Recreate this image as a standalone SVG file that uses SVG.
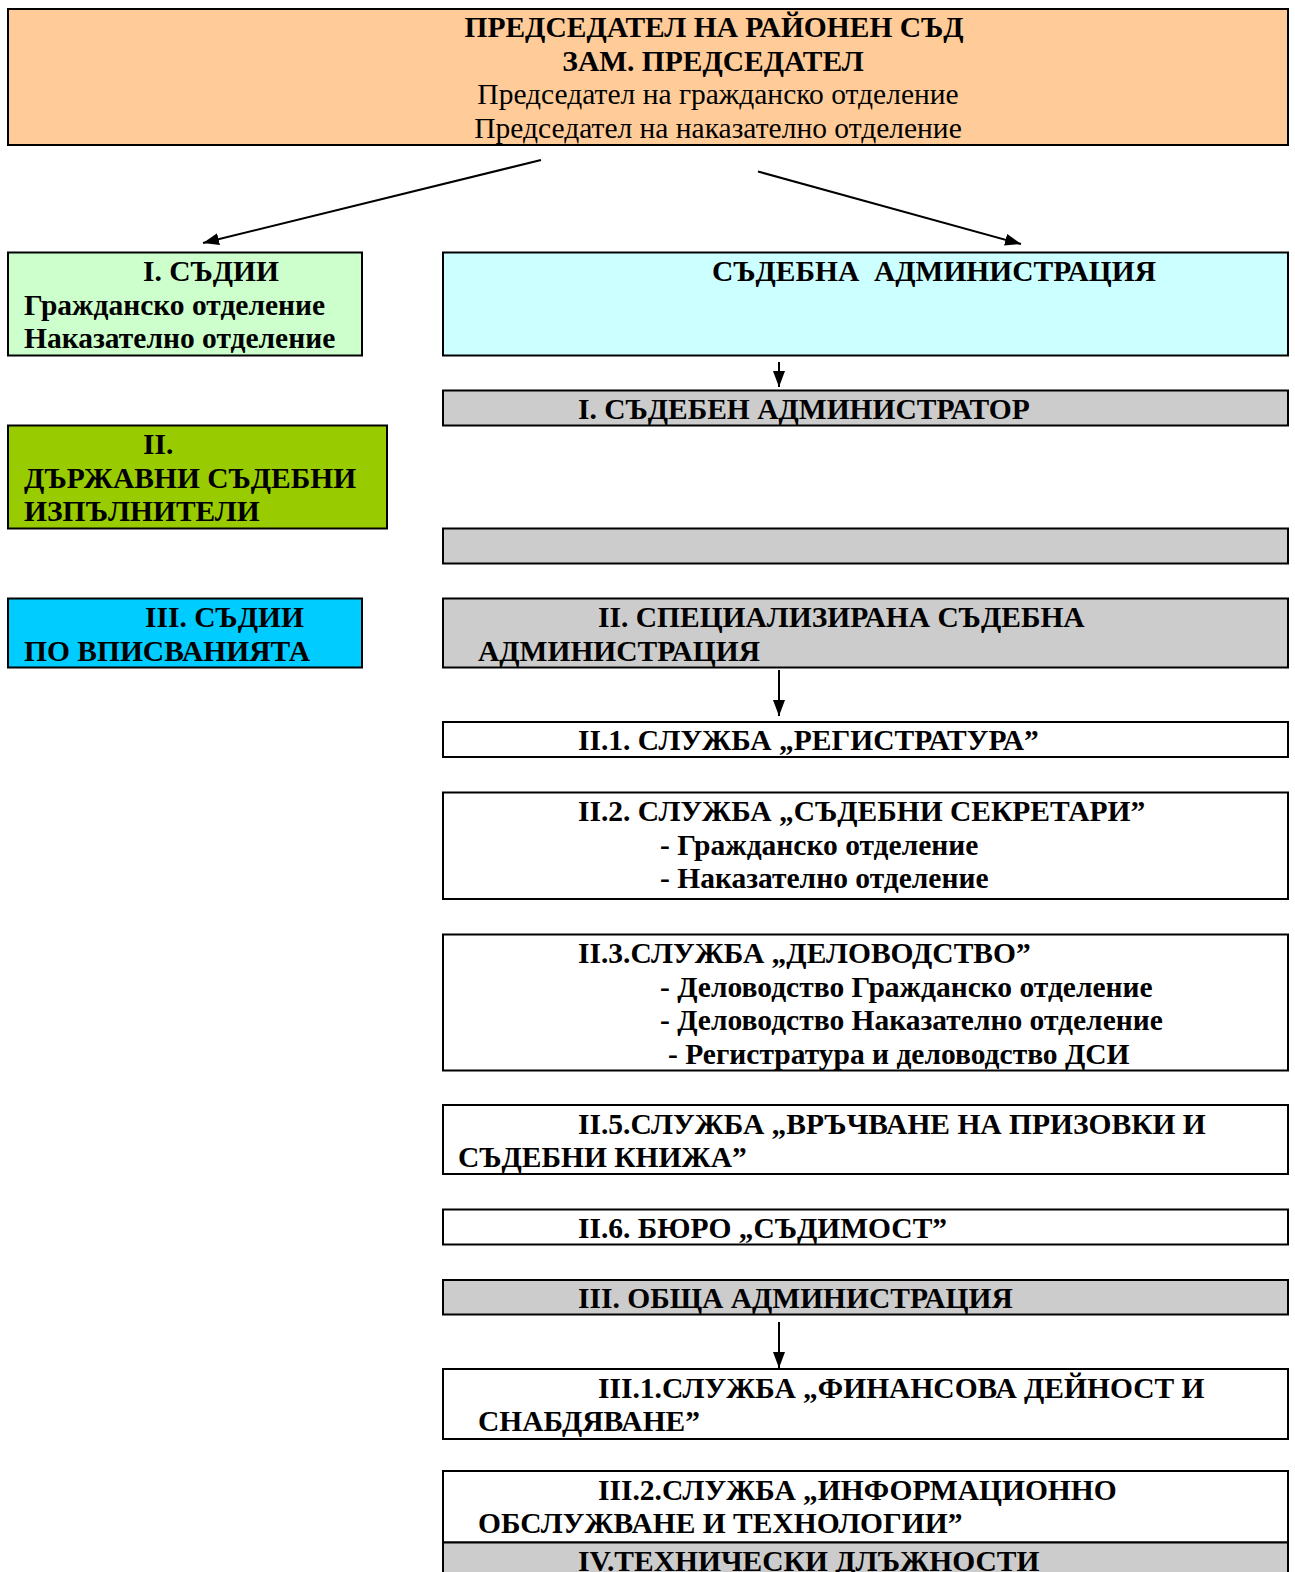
<svg xmlns="http://www.w3.org/2000/svg" width="1295" height="1572" viewBox="0 0 1295 1572">
<defs>
<style>
.box{stroke:#000;stroke-width:2}
.t{font-family:"Liberation Serif","Times New Roman",serif;font-size:29.5px;font-weight:bold;fill:#000;white-space:pre}
.n{font-weight:normal}
.m{text-anchor:middle}
.c{stroke:#000;stroke-width:2;fill:none}
</style>
<marker id="ah" markerUnits="userSpaceOnUse" markerWidth="16" markerHeight="12" refX="16" refY="6" orient="auto">
<path d="M0,0 L16,6 L0,12 z" fill="#000"/>
</marker>
</defs>
<rect width="1295" height="1572" fill="#fff"/>
<g id="chair">
<rect class="box" x="8" y="9" width="1280" height="136" fill="#FFCC99"/>
<text class="t m" x="714" y="37">ПРЕДСЕДАТЕЛ НА РАЙОНЕН СЪД</text>
<text class="t m" x="713" y="70.5">ЗАМ. ПРЕДСЕДАТЕЛ</text>
<text class="t m n" x="718" y="104">Председател на гражданско отделение</text>
<text class="t m n" x="718" y="137.5">Председател на наказателно отделение</text>
</g>
<g id="judges">
<rect class="box" x="8" y="252.5" width="354" height="103" fill="#CCFFCC"/>
<text class="t" x="143" y="281">I. СЪДИИ</text>
<text class="t" x="24" y="314.5">Гражданско отделение</text>
<text class="t" x="24" y="348">Наказателно отделение</text>
</g>
<g id="court-admin">
<rect class="box" x="443" y="252.5" width="845" height="103" fill="#CCFFFF"/>
<text class="t" x="712" y="281">СЪДЕБНА  АДМИНИСТРАЦИЯ</text>
</g>
<g id="administrator">
<rect class="box" x="443" y="390.5" width="845" height="35" fill="#CCCCCC"/>
<text class="t" x="578" y="418.5">I. СЪДЕБЕН АДМИНИСТРАТОР</text>
</g>
<g id="bailiffs">
<rect class="box" x="8" y="425.5" width="379" height="103" fill="#99CC00"/>
<text class="t" x="143" y="454">II.</text>
<text class="t" x="24" y="487.5">ДЪРЖАВНИ СЪДЕБНИ</text>
<text class="t" x="24" y="521">ИЗПЪЛНИТЕЛИ</text>
</g>
<g id="empty-gray">
<rect class="box" x="443" y="528.5" width="845" height="35" fill="#CCCCCC"/>
</g>
<g id="registry-judges">
<rect class="box" x="8" y="598.5" width="354" height="69" fill="#00CCFF"/>
<text class="t" x="145" y="627">III. СЪДИИ</text>
<text class="t" x="24" y="660.5">ПО ВПИСВАНИЯТА</text>
</g>
<g id="specialized">
<rect class="box" x="443" y="598.5" width="845" height="69" fill="#CCCCCC"/>
<text class="t" x="598" y="627">II. СПЕЦИАЛИЗИРАНА СЪДЕБНА</text>
<text class="t" x="478" y="660.5">АДМИНИСТРАЦИЯ</text>
</g>
<g id="s21">
<rect class="box" x="443" y="722" width="845" height="35" fill="#FFFFFF"/>
<text class="t" x="578" y="750">II.1. СЛУЖБА „РЕГИСТРАТУРА”</text>
</g>
<g id="s22">
<rect class="box" x="443" y="792.5" width="845" height="106.5" fill="#FFFFFF"/>
<text class="t" x="578" y="821">II.2. СЛУЖБА „СЪДЕБНИ СЕКРЕТАРИ”</text>
<text class="t" x="660" y="854.5">- Гражданско отделение</text>
<text class="t" x="660" y="888">- Наказателно отделение</text>
</g>
<g id="s23">
<rect class="box" x="443" y="934.5" width="845" height="136" fill="#FFFFFF"/>
<text class="t" x="578" y="963">II.3.СЛУЖБА „ДЕЛОВОДСТВО”</text>
<text class="t" x="660" y="996.5">- Деловодство Гражданско отделение</text>
<text class="t" x="660" y="1030">- Деловодство Наказателно отделение</text>
<text class="t" x="668" y="1063.5">- Регистратура и деловодство ДСИ</text>
</g>
<g id="s25">
<rect class="box" x="443" y="1105" width="845" height="69" fill="#FFFFFF"/>
<text class="t" x="578" y="1133.5">II.5.СЛУЖБА „ВРЪЧВАНЕ НА ПРИЗОВКИ И</text>
<text class="t" x="458" y="1167">СЪДЕБНИ КНИЖА”</text>
</g>
<g id="s26">
<rect class="box" x="443" y="1209.5" width="845" height="35" fill="#FFFFFF"/>
<text class="t" x="578" y="1237.5">II.6. БЮРО „СЪДИМОСТ”</text>
</g>
<g id="general">
<rect class="box" x="443" y="1280" width="845" height="34.5" fill="#CCCCCC"/>
<text class="t" x="578" y="1308">III. ОБЩА АДМИНИСТРАЦИЯ</text>
</g>
<g id="s31">
<rect class="box" x="443" y="1369" width="845" height="70" fill="#FFFFFF"/>
<text class="t" x="598" y="1397.5">III.1.СЛУЖБА „ФИНАНСОВА ДЕЙНОСТ И</text>
<text class="t" x="478" y="1431">СНАБДЯВАНЕ”</text>
</g>
<g id="s32">
<rect class="box" x="443" y="1471" width="845" height="71.5" fill="#FFFFFF"/>
<text class="t" x="598" y="1499.5">III.2.СЛУЖБА „ИНФОРМАЦИОННО</text>
<text class="t" x="478" y="1533">ОБСЛУЖВАНЕ И ТЕХНОЛОГИИ”</text>
</g>
<g id="technical">
<rect class="box" x="443" y="1542.5" width="845" height="40" fill="#CCCCCC"/>
<text class="t" x="578" y="1570.5">IV.ТЕХНИЧЕСКИ ДЛЪЖНОСТИ</text>
</g>
<g id="connectors">
<line class="c" x1="541" y1="160" x2="203" y2="243" marker-end="url(#ah)"/>
<line class="c" x1="758" y1="171.5" x2="1021" y2="244" marker-end="url(#ah)"/>
<line class="c" x1="779" y1="362" x2="779" y2="387" marker-end="url(#ah)"/>
<line class="c" x1="779" y1="670" x2="779" y2="716" marker-end="url(#ah)"/>
<line class="c" x1="779" y1="1322" x2="779" y2="1368" marker-end="url(#ah)"/>
</g>
</svg>
